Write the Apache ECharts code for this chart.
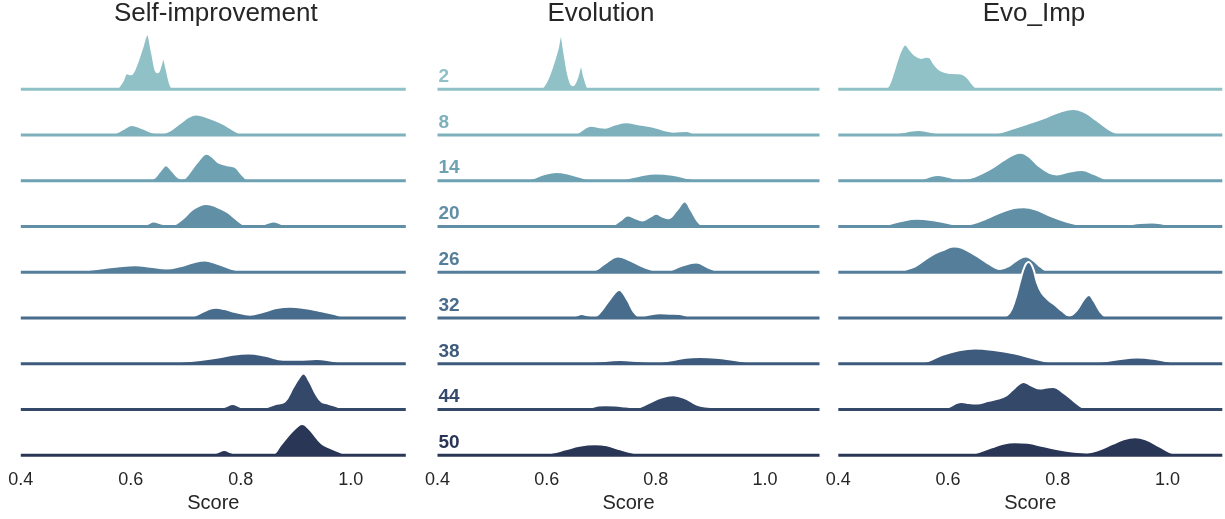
<!DOCTYPE html>
<html><head><meta charset="utf-8">
<script src="https://cdn.jsdelivr.net/npm/echarts@6/dist/echarts.min.js"></script>
<style>html,body{margin:0;padding:0;background:#fff}#c{width:1225px;height:519px}</style>
</head><body><div id="c"></div>
<script>
// ---- data (x = Score, y = scaled density) ----
const panels = ['Self-improvement', 'Evolution', 'Evo_Imp'];
const generations = [2, 8, 14, 20, 26, 32, 38, 44, 50];
const xTicks = [0.4, 0.6, 0.8, 1.0];
const palette = ['#8fc1c6','#7eb1bc','#6ea1b2','#608fa6','#547e9a','#486c8c','#3e5a7c','#34486a','#2a3656'];

const selfImprovement = [
  [[0.575,0],[0.585,8],[0.593,16],[0.600,15],[0.610,24],[0.620,40],[0.630,55],[0.638,38],[0.645,19],[0.649,17],[0.654,23],[0.659,31],[0.665,20],[0.671,6],[0.676,0]],
  [[0.555,0],[0.57,1.5],[0.585,5.5],[0.602,10],[0.62,7],[0.64,2.5],[0.655,1.5],[0.67,4],[0.69,12],[0.705,18],[0.718,20.5],[0.735,18.5],[0.755,14.5],[0.77,10.5],[0.785,5.5],[0.80,1],[0.81,0]],
  [[0.635,0],[0.645,4],[0.655,11],[0.664,15.5],[0.675,10],[0.687,3],[0.695,2],[0.705,7],[0.72,18],[0.738,27],[0.75,23],[0.76,18],[0.775,15.5],[0.79,13.5],[0.80,7.5],[0.812,1],[0.82,0]],
  [[0.615,0],[0.63,2.5],[0.641,5],[0.655,3],[0.67,1],[0.68,2],[0.695,8],[0.71,16],[0.725,21],[0.738,22.5],[0.755,20],[0.775,14.5],[0.79,8],[0.805,2],[0.82,0.5],[0.835,1],[0.848,3.5],[0.86,5],[0.872,3],[0.885,0.5],[0.895,0]],
  [[0.43,0],[0.47,0.5],[0.51,1.7],[0.55,4],[0.58,6],[0.608,7],[0.635,5.5],[0.665,3.7],[0.69,6],[0.715,10],[0.735,11.7],[0.755,9],[0.78,4],[0.805,1],[0.83,1],[0.86,2],[0.89,0.6],[0.93,0]],
  [[0.70,0],[0.715,2],[0.73,6],[0.745,9.5],[0.755,10.3],[0.77,9],[0.79,6],[0.817,3.3],[0.84,6],[0.865,10],[0.89,11.3],[0.915,10],[0.944,7],[0.97,4],[0.99,0.7],[1.0,0]],
  [[0.47,0],[0.52,0.5],[0.57,0.8],[0.62,1.3],[0.66,1],[0.695,2],[0.73,4],[0.756,6],[0.785,9],[0.814,10.3],[0.845,8],[0.877,4],[0.905,4],[0.938,4.7],[0.965,3],[0.99,0.7],[1.01,0]],
  [[0.755,0],[0.772,3],[0.785,5.7],[0.798,3],[0.808,0.8],[0.83,0.5],[0.845,2],[0.862,5.3],[0.88,8],[0.895,22],[0.905,31],[0.914,36],[0.925,28],[0.937,15],[0.947,8],[0.958,6],[0.97,4],[0.985,1],[0.995,0]],
  [[0.745,0],[0.758,3],[0.770,5.3],[0.782,3],[0.795,0.5],[0.84,0.3],[0.858,1],[0.872,10],[0.89,22],[0.905,30],[0.912,31.3],[0.925,26],[0.937,18],[0.947,12],[0.96,8],[0.975,4.5],[0.99,1],[1.0,0]]
];

const evolution = [
  [[0.59,0],[0.60,8],[0.61,22],[0.62,40],[0.626,54],[0.632,38],[0.638,18],[0.644,6],[0.648,4],[0.655,10],[0.663,23],[0.669,12],[0.675,2],[0.678,0]],
  [[0.648,0],[0.66,3],[0.672,7.5],[0.682,9.3],[0.695,8],[0.707,7.3],[0.725,10.5],[0.746,12.7],[0.77,10.5],[0.795,8.3],[0.815,5],[0.832,3.3],[0.856,4],[0.87,1.5],[0.88,0]],
  [[0.555,0],[0.575,2.5],[0.595,6.5],[0.618,8.7],[0.64,7],[0.66,4],[0.682,1],[0.71,0.7],[0.74,1.5],[0.77,5],[0.80,7.3],[0.83,6],[0.86,2.5],[0.88,0.5],[0.89,0]],
  [[0.72,0],[0.735,6],[0.749,11],[0.762,8.5],[0.775,6],[0.79,10],[0.801,12.7],[0.812,10],[0.823,8.3],[0.838,16],[0.853,25],[0.865,16],[0.877,5],[0.887,0]],
  [[0.68,0],[0.695,4],[0.71,10],[0.731,15.7],[0.75,12.5],[0.775,6],[0.80,2],[0.823,1.7],[0.845,6],[0.874,9.7],[0.895,5],[0.912,1],[0.92,0]],
  [[0.645,0],[0.655,2.5],[0.664,4],[0.676,2.5],[0.688,2],[0.70,7],[0.715,18],[0.733,28],[0.748,18],[0.76,6],[0.771,1.5],[0.79,3.5],[0.807,4.7],[0.825,4.3],[0.844,4],[0.86,1.5],[0.872,0]],
  [[0.50,0],[0.55,0.5],[0.60,0.5],[0.65,0.8],[0.69,2],[0.734,3.7],[0.77,2.5],[0.80,1.5],[0.83,3.5],[0.855,6],[0.881,6.7],[0.91,6],[0.94,4],[0.97,1.5],[0.99,0.3],[1.01,0]],
  [[0.665,0],[0.68,2],[0.695,4],[0.707,4.3],[0.725,4],[0.745,3],[0.765,2],[0.785,6],[0.81,12],[0.832,14.3],[0.855,11],[0.875,5],[0.89,3],[0.91,2.5],[0.93,1],[0.94,0]],
  [[0.59,0],[0.61,2.5],[0.635,6],[0.66,9.5],[0.688,11],[0.71,10],[0.735,6],[0.755,3],[0.77,1.5],[0.80,1.2],[0.85,1],[0.90,1],[0.94,0.5],[0.97,0]]
];

const evoImp = [
  [[0.485,0],[0.492,4],[0.500,16],[0.508,30],[0.515,40],[0.522,44.7],[0.530,40],[0.540,34],[0.551,31.3],[0.560,32.5],[0.566,32],[0.575,25],[0.586,19],[0.60,16.5],[0.615,16],[0.625,15.5],[0.635,12],[0.645,5],[0.653,0.5],[0.656,0]],
  [[0.47,0],[0.50,1],[0.525,3.5],[0.546,5],[0.565,3.5],[0.59,1.2],[0.63,1],[0.665,1],[0.686,1.5],[0.715,6],[0.747,11.7],[0.775,17],[0.80,22.5],[0.829,26],[0.85,22.5],[0.87,15],[0.887,8],[0.90,3.5],[0.914,0.5],[0.92,0]],
  [[0.535,0],[0.555,2],[0.568,4.5],[0.581,5.7],[0.60,4],[0.615,2],[0.628,1.7],[0.65,4.5],[0.675,11],[0.70,20],[0.72,26.5],[0.733,28],[0.748,24],[0.765,15],[0.785,8],[0.799,6.3],[0.82,9],[0.844,10.7],[0.865,7],[0.885,2],[0.896,0]],
  [[0.47,0],[0.49,2],[0.515,5.5],[0.543,7.7],[0.57,6.5],[0.60,3.5],[0.622,1.3],[0.645,3],[0.67,8],[0.70,15],[0.72,18.5],[0.738,19.3],[0.76,17],[0.785,11],[0.815,5],[0.844,1.7],[0.88,1],[0.92,1.5],[0.95,3.5],[0.972,4],[0.995,2.5],[1.02,0.5],[1.03,0]],
  [[0.51,0],[0.525,3],[0.54,6],[0.57,17],[0.59,22],[0.61,25.7],[0.625,24.5],[0.649,17.3],[0.67,10],[0.685,5],[0.695,3.3],[0.71,6],[0.728,13],[0.742,15.7],[0.755,12],[0.77,5],[0.783,0.5],[0.79,0]],
  [[0.70,0],[0.712,5],[0.722,18],[0.732,38],[0.74,52],[0.747,56],[0.755,50],[0.762,36],[0.771,25],[0.783,18],[0.795,13],[0.808,7],[0.821,2.3],[0.835,8],[0.848,19],[0.857,23],[0.866,17],[0.878,6],[0.89,0]],
  [[0.545,0],[0.565,3],[0.59,9],[0.62,13.5],[0.649,15.3],[0.68,14],[0.722,10.3],[0.755,5.5],[0.795,1],[0.83,0.7],[0.87,1.5],[0.905,4],[0.945,6.3],[0.975,5],[1.0,2.5],[1.02,0.3],[1.03,0]],
  [[0.592,0],[0.605,3.5],[0.615,6.5],[0.625,7.7],[0.638,6.5],[0.653,6],[0.672,8.5],[0.692,11],[0.707,14.5],[0.722,22],[0.738,27.7],[0.752,24],[0.768,21],[0.78,22],[0.792,22.7],[0.81,17],[0.826,10],[0.84,4],[0.853,0]],
  [[0.635,0],[0.655,3],[0.68,8],[0.70,11.5],[0.722,13],[0.745,12.5],[0.775,9],[0.80,6],[0.83,3.5],[0.853,2.7],[0.875,5.5],[0.90,11.5],[0.92,16],[0.941,18],[0.96,16],[0.985,9],[1.005,3],[1.02,0.3],[1.03,0]]
];

const panelData = [selfImprovement, evolution, evoImp];

// ---- layout ----
const FONT = '"Liberation Sans", Arial, Helvetica, sans-serif';
const TEXT = '#262626';
const panelLeft = [20.8, 437.5, 838.3];
const panelWidth = [385, 382, 384];
const titleX = [215.8, 601, 1034];
const rowBase0 = 89.2, rowStep = 45.77, rowH = 60;
const X_MIN = 0.4, X_MAX = 1.1;

const grids = [], xAxes = [], yAxes = [], series = [];
panels.forEach((pName, p) => {
  generations.forEach((g, r) => {
    const idx = grids.length;
    const base = rowBase0 + rowStep * r;
    grids.push({ left: panelLeft[p], width: panelWidth[p], top: base - rowH, height: rowH, containLabel: false });
    const isBottom = r === generations.length - 1;
    xAxes.push({
      gridIndex: idx, type: 'value', min: X_MIN, max: X_MAX, interval: 0.2,
      show: isBottom,
      axisLine: { show: false }, axisTick: { show: false }, splitLine: { show: false },
      axisLabel: {
        show: isBottom, margin: 16, fontSize: 18, color: TEXT, fontFamily: FONT,
        showMaxLabel: false,
        formatter: v => xTicks.some(t => Math.abs(t - v) < 1e-9) ? v.toFixed(1) : ''
      },
      name: isBottom ? 'Score' : '', nameLocation: 'middle', nameGap: 38,
      nameTextStyle: { fontSize: 20, color: TEXT, fontFamily: FONT }
    });
    yAxes.push({ gridIndex: idx, type: 'value', min: 0, max: rowH, show: false });
    series.push({
      type: 'line', xAxisIndex: idx, yAxisIndex: idx,
      data: panelData[p][r], smooth: 0.4, symbol: 'none', clip: false,
      lineStyle: { color: '#ffffff', width: 2 },
      areaStyle: { color: palette[r], opacity: 1 },
      z: 10 + 2 * r, silent: true, animation: false
    });
    series.push({
      type: 'line', xAxisIndex: idx, yAxisIndex: idx,
      data: [[X_MIN, 0], [X_MAX, 0]], symbol: 'none', clip: false,
      lineStyle: { color: palette[r], width: 3 },
      z: 11 + 2 * r, silent: true, animation: false
    });
  });
});

const chart = echarts.init(document.getElementById('c'));
chart.setOption({
  animation: false,
  backgroundColor: '#ffffff',
  title: panels.map((t, p) => ({
    text: t, left: titleX[p], top: 1, textAlign: 'center', padding: 0,
    textStyle: { fontSize: 26, fontWeight: 'normal', color: TEXT, fontFamily: FONT }
  })),
  grid: grids, xAxis: xAxes, yAxis: yAxes, series: series
});

// generation labels on the middle panel, anchored at (0.4, 0) of each row
const labelEls = generations.map((g, r) => {
  const gi = 1 * generations.length + r;
  const pt = chart.convertToPixel({ gridIndex: gi }, [X_MIN, 0]);
  return {
    type: 'text', x: pt[0] + 1, y: pt[1] - 3, z: 100,
    style: { text: String(g), fill: palette[r], font: 'bold 19px ' + FONT, textAlign: 'left', textVerticalAlign: 'bottom' }
  };
});
chart.setOption({ graphic: labelEls });
</script></body></html>
